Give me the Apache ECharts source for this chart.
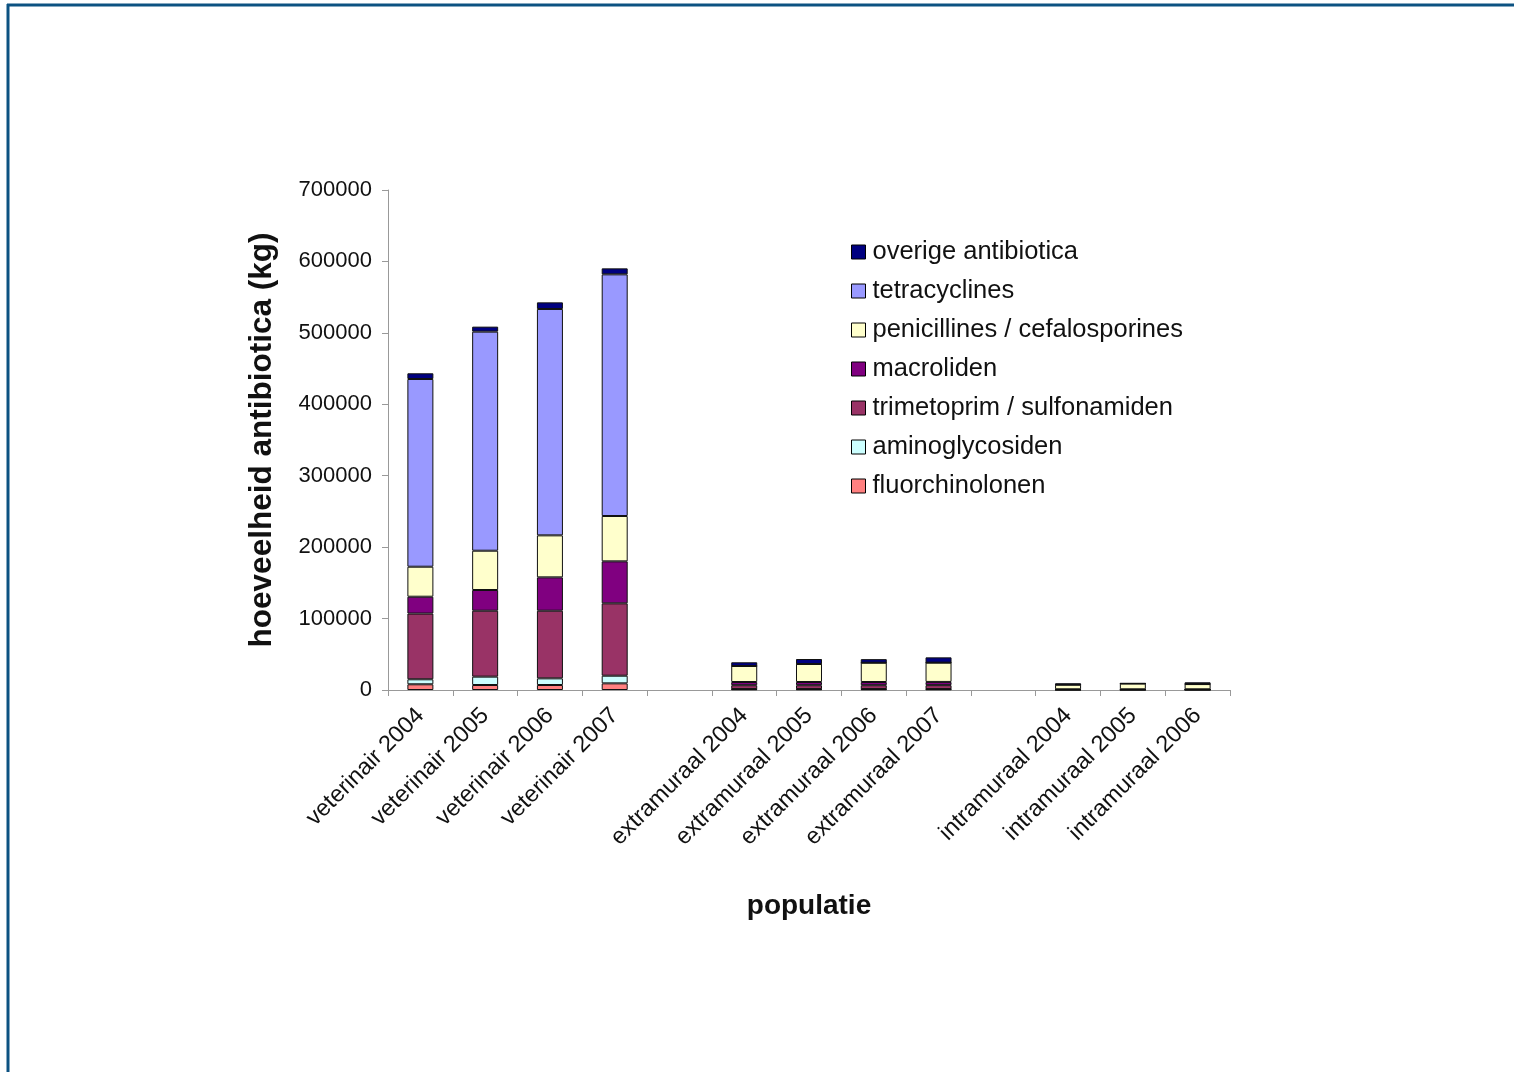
<!DOCTYPE html>
<html>
<head>
<meta charset="utf-8">
<script src="https://cdn.jsdelivr.net/npm/echarts@6/dist/echarts.min.js"></script>
<style>
html,body{margin:0;padding:0;background:#fff;}
#chart{width:1514px;height:1072px;}
</style>
</head>
<body>
<div id="chart"></div>
<script>
const categories = ['veterinair 2004','veterinair 2005','veterinair 2006','veterinair 2007','',
  'extramuraal 2004','extramuraal 2005','extramuraal 2006','extramuraal 2007','',
  'intramuraal 2004','intramuraal 2005','intramuraal 2006'];
const yTicks = [0,100000,200000,300000,400000,500000,600000,700000];

const fluorchinolonen      = [8000, 7000, 7000, 9300, '-', 1000, 1000, 1000, 1000, '-', 300, 300, 300];
const aminoglycosiden      = [7000, 11700, 9300, 10700, '-', 300, 300, 300, 300, '-', 100, 100, 100];
const trimetoprim          = [92000, 92300, 94700, 101300, '-', 5400, 5400, 5400, 5500, '-', 300, 300, 300];
const macroliden           = [23600, 29000, 46700, 58800, '-', 4500, 4500, 4500, 4500, '-', 300, 300, 300];
const penicillines         = [42000, 55000, 58800, 63500, '-', 22400, 25200, 27000, 27000, '-', 6400, 8000, 7300];
const tetracyclines        = [262800, 306700, 316900, 338300, '-', 0, 0, 0, 0, '-', 0, 0, 0];
const overige              = [8000, 7000, 9300, 8400, '-', 5200, 7000, 5000, 7400, '-', 2000, 500, 2500];

const seriesDefs = [
  {name:'fluorchinolonen', data:fluorchinolonen, color:'#FF8080'},
  {name:'aminoglycosiden', data:aminoglycosiden, color:'#CCFFFF'},
  {name:'trimetoprim / sulfonamiden', data:trimetoprim, color:'#993366'},
  {name:'macroliden', data:macroliden, color:'#800080'},
  {name:'penicillines / cefalosporines', data:penicillines, color:'#FFFFCC'},
  {name:'tetracyclines', data:tetracyclines, color:'#9999FF'},
  {name:'overige antibiotica', data:overige, color:'#000080'}
];

const FONT = '"Liberation Sans", Arial, sans-serif';
const chart = echarts.init(document.getElementById('chart'));
chart.setOption({
  animation:false,
  backgroundColor:'#fff',
  graphic:[
    {type:'line', shape:{x1:7, y1:5, x2:1514, y2:5}, style:{stroke:'#0c5282', lineWidth:3}},
    {type:'line', shape:{x1:8, y1:4, x2:8, y2:1072}, style:{stroke:'#0c5282', lineWidth:3}}
  ],
  legend:{
    left:846, top:234, orient:'vertical',
    data: seriesDefs.map(s=>s.name).reverse(),
    icon:'rect', itemWidth:14, itemHeight:14, itemGap:13,
    textStyle:{fontFamily:FONT, fontSize:25.5, color:'#111', lineHeight:26, padding:[0,0,0,2]},
    itemStyle:{borderColor:'#000', borderWidth:1}
  },
  grid:{left:388, right:284, top:190, bottom:382, containLabel:false},
  xAxis:{
    type:'category', data:categories,
    name:'populatie', nameLocation:'middle', nameGap:202,
    nameTextStyle:{fontFamily:FONT, fontSize:28, fontWeight:'bold', color:'#111'},
    axisLine:{lineStyle:{color:'#999', width:1}},
    axisTick:{show:true, alignWithLabel:false, length:6, lineStyle:{color:'#999'}},
    axisLabel:{rotate:45, interval:0, fontFamily:FONT, fontSize:23.5, color:'#111', margin:22}
  },
  yAxis:{
    type:'value', min:0, max:700000, interval:100000,
    name:'hoeveelheid antibiotica (kg)', nameLocation:'middle', nameGap:110,
    nameTextStyle:{fontFamily:FONT, fontSize:31.5, fontWeight:'bold', color:'#111'},
    axisLine:{show:true, lineStyle:{color:'#999'}},
    axisTick:{show:true, length:6, lineStyle:{color:'#999'}},
    splitLine:{show:false},
    axisLabel:{fontFamily:FONT, fontSize:22, color:'#111', margin:16,
      formatter:v=> yTicks.includes(v) ? String(v) : ''}
  },
  series: seriesDefs.map(s=>({
    name:s.name, type:'bar', stack:'total', data:s.data, barWidth:26,
    itemStyle:{color:s.color, borderColor:'#111', borderWidth:1}
  }))
});
</script>
</body>
</html>
